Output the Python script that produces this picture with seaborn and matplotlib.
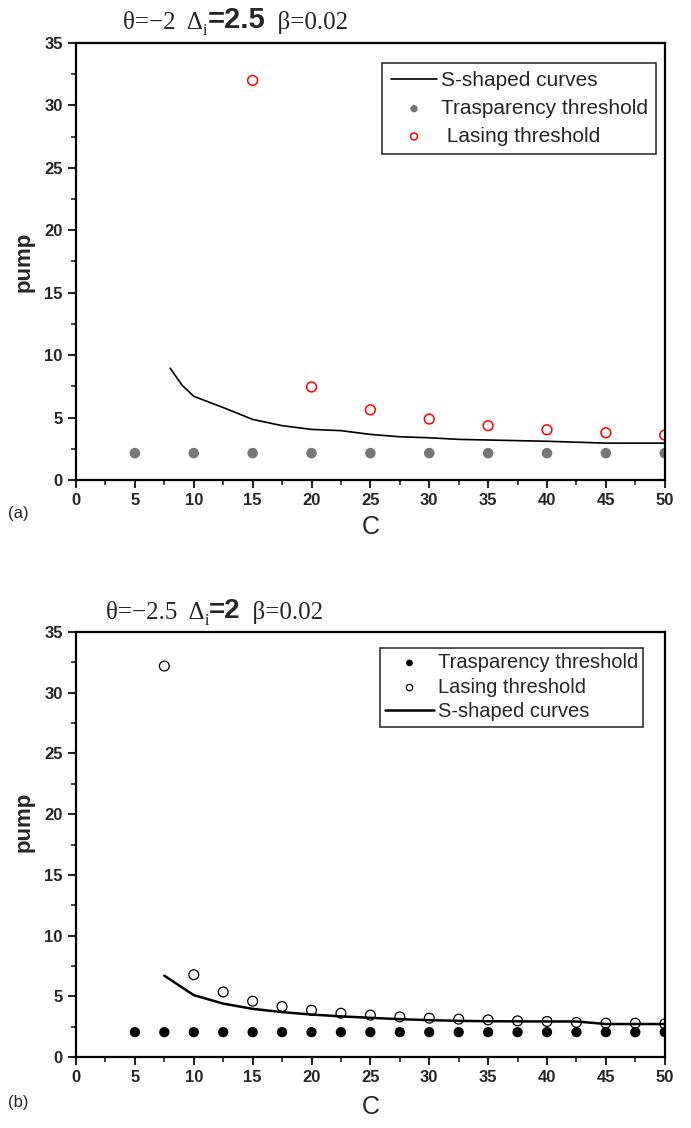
import pandas as pd
import numpy as np
import matplotlib
matplotlib.use("Agg")
import matplotlib.pyplot as plt
from matplotlib.ticker import MultipleLocator
import seaborn as sns

# panel (a): theta=-2, Delta_i=2.5
trans_a_x = [5, 10, 15, 20, 25, 30, 35, 40, 45, 50]
trans_a_y = [2.15, 2.15, 2.15, 2.15, 2.15, 2.15, 2.15, 2.15, 2.15, 2.15]
lasing_a_x = [15, 20, 25, 30, 35, 40, 45, 50]
lasing_a_y = [32.0, 7.45, 5.62, 4.88, 4.35, 4.02, 3.78, 3.6]
curve_a_x = [8, 9, 10, 12.5, 15, 17.5, 20, 22.5, 25, 27.5, 30, 32.5, 35, 40, 45, 50]
curve_a_y = [8.95, 7.6, 6.7, 5.8, 4.85, 4.35, 4.05, 3.95, 3.65, 3.46, 3.38, 3.25, 3.2, 3.1, 2.95, 2.95]

# panel (b): theta=-2.5, Delta_i=2
trans_b_x = [5, 7.5, 10, 12.5, 15, 17.5, 20, 22.5, 25, 27.5, 30, 32.5, 35, 37.5, 40, 42.5, 45, 47.5, 50]
trans_b_y = [2.05] * 19
lasing_b_x = [7.5, 10, 12.5, 15, 17.5, 20, 22.5, 25, 27.5, 30, 32.5, 35, 37.5, 40, 42.5, 45, 47.5, 50]
lasing_b_y = [32.2, 6.78, 5.36, 4.6, 4.16, 3.86, 3.61, 3.45, 3.31, 3.2, 3.12, 3.06, 2.98, 2.93, 2.85, 2.79, 2.79, 2.73]
curve_b_x = [7.5, 10, 12.5, 15, 17.5, 20, 22.5, 25, 27.5, 30, 32.5, 35, 37.5, 40, 42.5, 45, 47.5, 50]
curve_b_y = [6.7, 5.1, 4.4, 3.97, 3.7, 3.5, 3.35, 3.23, 3.12, 3.04, 2.98, 2.95, 2.94, 2.93, 2.93, 2.72, 2.72, 2.72]

sns.set_style("ticks")
plt.rcParams['font.family'] = ['Liberation Sans', 'DejaVu Sans']

fig = plt.figure(figsize=(6.91, 11.28), dpi=100)
ax_a = fig.add_axes([0.110, 0.5745, 0.852, 0.3874])
ax_b = fig.add_axes([0.110, 0.0629, 0.852, 0.3768])


def style_axes(ax, pump_y, c_y):
    ax.set_xlim(0, 50)
    ax.set_ylim(0, 35)
    ax.xaxis.set_major_locator(MultipleLocator(5))
    ax.xaxis.set_minor_locator(MultipleLocator(2.5))
    ax.yaxis.set_major_locator(MultipleLocator(5))
    ax.yaxis.set_minor_locator(MultipleLocator(2.5))
    ax.tick_params(which='major', direction='out', length=6, width=1.5,
                   labelsize=12, top=False, right=False)
    ax.tick_params(which='minor', direction='out', length=3.5, width=1.2,
                   top=False, right=False)
    for lab in ax.get_xticklabels() + ax.get_yticklabels():
        lab.set_fontweight('bold')
    for sp in ax.spines.values():
        sp.set_visible(True)
        sp.set_linewidth(1.6)
        sp.set_color('black')
    ax.set_ylabel('pump', fontsize=16, fontweight='bold')
    ax.yaxis.set_label_coords(-0.071, pump_y)
    ax.set_xlabel('C', fontsize=18)
    ax.xaxis.set_label_coords(0.5, c_y)


def title(ax, x, y, theta, delta, beta, serif_size, bold_size):
    t1 = ax.annotate(f"θ=−{theta}  Δ", xy=(x, y), xycoords='figure fraction',
                     family='Liberation Serif', fontsize=serif_size, va='bottom',
                     annotation_clip=False)
    t2 = ax.annotate("i", xy=(1, 0), xycoords=t1, xytext=(0, -4),
                     textcoords='offset points', family='Liberation Serif',
                     fontsize=serif_size * 0.65, va='bottom', annotation_clip=False)
    t3 = ax.annotate(f"={delta}", xy=(1, 0), xycoords=(t2, t1),
                     fontsize=bold_size, fontweight='bold', va='bottom',
                     annotation_clip=False)
    ax.annotate(f"  β={beta}", xy=(1, 0), xycoords=(t3, t1),
                family='Liberation Serif', fontsize=serif_size, va='bottom',
                annotation_clip=False)


# ---- panel (a)
sns.lineplot(x=curve_a_x, y=curve_a_y, ax=ax_a, color='black', lw=1.2,
             sort=False, estimator=None, label='S-shaped curves')
sns.scatterplot(x=trans_a_x, y=trans_a_y, ax=ax_a, color='#777777', s=58,
                edgecolor='none', label='Trasparency threshold')
sns.scatterplot(x=lasing_a_x, y=lasing_a_y, ax=ax_a, s=50, facecolors='none',
                edgecolors='red', linewidth=1.1, label=' Lasing threshold')
style_axes(ax_a, 0.5, -0.080)
h, l = ax_a.get_legend_handles_labels()
ax_a.legend(h, l, loc='upper right', bbox_to_anchor=(0.985, 0.954),
            fontsize=15, frameon=True, fancybox=False, edgecolor='black',
            handlelength=2.25, markerscale=0.7, borderpad=0.4, labelspacing=0.42,
            handletextpad=0.15, borderaxespad=0).get_frame().set_linewidth(1.2)
title(ax_a, 0.178, 0.970, 2, 2.5, 0.02, 18, 21)
fig.text(0.012, 0.541, '(a)', fontsize=12)

# ---- panel (b)
sns.scatterplot(x=trans_b_x, y=trans_b_y, ax=ax_b, color='black', s=55,
                edgecolor='none', label='Trasparency threshold')
sns.scatterplot(x=lasing_b_x, y=lasing_b_y, ax=ax_b, s=50, facecolors='none',
                edgecolors='black', linewidth=0.9, label='Lasing threshold')
sns.lineplot(x=curve_b_x, y=curve_b_y, ax=ax_b, color='black', lw=1.8,
             sort=False, estimator=None, label='S-shaped curves')
style_axes(ax_b, 0.553, -0.089)
h, l = ax_b.get_legend_handles_labels()
ax_b.legend(h, l, loc='upper right', bbox_to_anchor=(0.963, 0.962),
            fontsize=14.5, frameon=True, fancybox=False, edgecolor='black',
            handlelength=2.4, markerscale=0.65, borderpad=0.25, labelspacing=0.28,
            handletextpad=0.2, borderaxespad=0).get_frame().set_linewidth(1.2)
title(ax_b, 0.153, 0.447, 2.5, 2, 0.02, 18, 20)
fig.text(0.012, 0.019, '(b)', fontsize=12)

fig.savefig('out.png', dpi=100)
